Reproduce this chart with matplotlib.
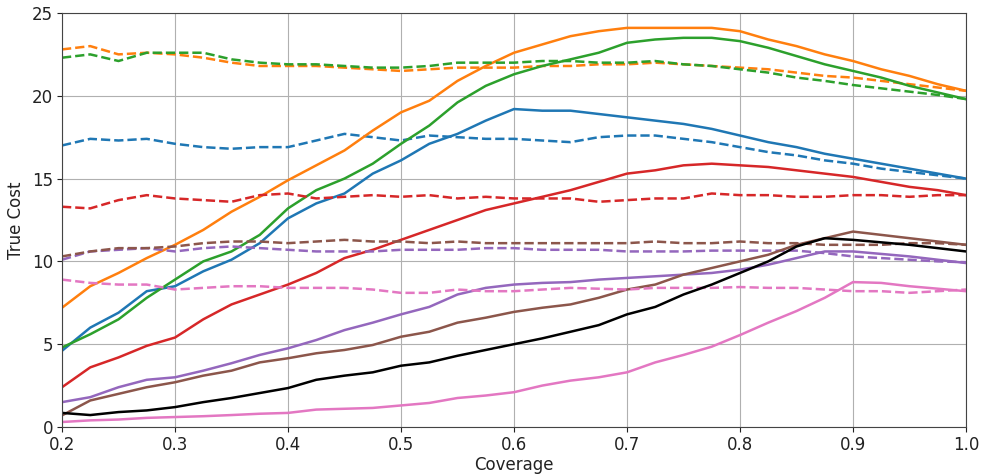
import matplotlib

matplotlib.use("Agg")

import matplotlib.pyplot as plt

# Shared coverage grid for every curve
coverage = [0.200, 0.225, 0.250, 0.275, 0.300, 0.325, 0.350, 0.375, 0.400, 0.425,
            0.450, 0.475, 0.500, 0.525, 0.550, 0.575, 0.600, 0.625, 0.650, 0.675,
            0.700, 0.725, 0.750, 0.775, 0.800, 0.825, 0.850, 0.875, 0.900, 0.925,
            0.950, 0.975, 1.000]

# Solid curves (one per colour)
blue_solid = [4.6, 6.0, 6.9, 8.2, 8.5, 9.4, 10.1, 11.1, 12.6, 13.5, 14.1, 15.3, 16.1,
              17.1, 17.7, 18.5, 19.2, 19.1, 19.1, 18.9, 18.7, 18.5, 18.3, 18.0, 17.6,
              17.2, 16.9, 16.5, 16.2, 15.9, 15.6, 15.3, 15.0]
orange_solid = [7.2, 8.5, 9.3, 10.2, 11.0, 11.9, 13.0, 13.9, 14.9, 15.8, 16.7, 17.9, 19.0,
                19.7, 20.9, 21.8, 22.6, 23.1, 23.6, 23.9, 24.1, 24.1, 24.1, 24.1, 23.9,
                23.4, 23.0, 22.5, 22.1, 21.6, 21.2, 20.7, 20.3]
green_solid = [4.8, 5.6, 6.5, 7.8, 8.9, 10.0, 10.6, 11.6, 13.2, 14.3, 15.0, 15.9, 17.1,
               18.2, 19.6, 20.6, 21.3, 21.8, 22.2, 22.6, 23.2, 23.4, 23.5, 23.5, 23.3,
               22.9, 22.4, 21.9, 21.5, 21.1, 20.6, 20.2, 19.8]
red_solid = [2.4, 3.6, 4.2, 4.9, 5.4, 6.5, 7.4, 8.0, 8.6, 9.3, 10.2, 10.7, 11.3, 11.9,
             12.5, 13.1, 13.5, 13.9, 14.3, 14.8, 15.3, 15.5, 15.8, 15.9, 15.8, 15.7,
             15.5, 15.3, 15.1, 14.8, 14.5, 14.3, 14.0]
purple_solid = [1.5, 1.8, 2.4, 2.85, 3.0, 3.4, 3.85, 4.35, 4.75, 5.25, 5.85, 6.3, 6.8,
                7.25, 8.0, 8.4, 8.6, 8.7, 8.75, 8.9, 9.0, 9.1, 9.2, 9.3, 9.5, 9.8,
                10.2, 10.6, 10.6, 10.45, 10.3, 10.1, 9.9]
brown_solid = [0.7, 1.6, 2.0, 2.4, 2.7, 3.1, 3.4, 3.9, 4.15, 4.45, 4.65, 4.95, 5.45,
               5.75, 6.3, 6.6, 6.95, 7.2, 7.4, 7.8, 8.3, 8.6, 9.2, 9.6, 10.0, 10.4,
               11.0, 11.4, 11.8, 11.6, 11.4, 11.2, 11.0]
pink_solid = [0.3, 0.4, 0.45, 0.55, 0.6, 0.65, 0.72, 0.8, 0.85, 1.05, 1.1, 1.15, 1.3,
              1.45, 1.75, 1.9, 2.1, 2.5, 2.8, 3.0, 3.3, 3.9, 4.35, 4.85, 5.55, 6.3,
              7.0, 7.8, 8.75, 8.7, 8.5, 8.35, 8.2]
black_solid = [0.85, 0.72, 0.9, 1.0, 1.2, 1.5, 1.75, 2.05, 2.35, 2.85, 3.1, 3.3, 3.7,
               3.9, 4.3, 4.65, 5.0, 5.35, 5.75, 6.15, 6.8, 7.25, 8.0, 8.6, 9.3, 10.0,
               10.9, 11.4, 11.3, 11.15, 11.0, 10.8, 10.6]

# Dashed curves (one per colour)
blue_dashed = [17.0, 17.4, 17.3, 17.4, 17.1, 16.9, 16.8, 16.9, 16.9, 17.3, 17.7, 17.5,
               17.3, 17.6, 17.5, 17.4, 17.4, 17.3, 17.2, 17.5, 17.6, 17.6, 17.4, 17.2,
               16.9, 16.6, 16.4, 16.1, 15.9, 15.6, 15.4, 15.2, 15.0]
orange_dashed = [22.8, 23.0, 22.5, 22.6, 22.5, 22.3, 22.0, 21.8, 21.8, 21.8, 21.7, 21.6,
                 21.5, 21.6, 21.7, 21.7, 21.7, 21.8, 21.8, 21.9, 21.9, 22.0, 21.9, 21.8,
                 21.7, 21.6, 21.4, 21.2, 21.1, 20.9, 20.7, 20.5, 20.3]
green_dashed = [22.3, 22.5, 22.1, 22.6, 22.6, 22.6, 22.2, 22.0, 21.9, 21.9, 21.8, 21.7,
                21.7, 21.8, 22.0, 22.0, 22.0, 22.1, 22.1, 22.0, 22.0, 22.1, 21.9, 21.8,
                21.6, 21.4, 21.1, 20.9, 20.65, 20.45, 20.25, 20.05, 19.8]
red_dashed = [13.3, 13.2, 13.7, 14.0, 13.8, 13.7, 13.6, 14.0, 14.1, 13.8, 13.9, 14.0,
              13.9, 14.0, 13.8, 13.9, 13.8, 13.8, 13.8, 13.6, 13.7, 13.8, 13.8, 14.1,
              14.0, 14.0, 13.9, 13.9, 14.0, 14.0, 13.9, 14.0, 14.0]
purple_dashed = [10.1, 10.6, 10.7, 10.8, 10.6, 10.8, 10.9, 10.8, 10.7, 10.6, 10.6, 10.6,
                 10.7, 10.7, 10.7, 10.8, 10.8, 10.7, 10.7, 10.7, 10.6, 10.6, 10.6, 10.65,
                 10.65, 10.65, 10.65, 10.5, 10.3, 10.2, 10.1, 10.0, 9.95]
brown_dashed = [10.3, 10.6, 10.8, 10.8, 10.9, 11.1, 11.2, 11.2, 11.1, 11.2, 11.3, 11.2,
                11.2, 11.1, 11.2, 11.1, 11.1, 11.1, 11.1, 11.1, 11.1, 11.2, 11.1, 11.1,
                11.2, 11.1, 11.1, 11.0, 11.0, 11.0, 11.1, 11.1, 11.0]
pink_dashed = [8.9, 8.7, 8.6, 8.6, 8.3, 8.4, 8.5, 8.5, 8.4, 8.4, 8.4, 8.3, 8.1, 8.1,
               8.3, 8.2, 8.2, 8.3, 8.4, 8.35, 8.3, 8.4, 8.4, 8.4, 8.45, 8.4, 8.4, 8.3,
               8.2, 8.2, 8.1, 8.2, 8.3]

pairs = [
    ("tab:blue", blue_solid, blue_dashed),
    ("tab:orange", orange_solid, orange_dashed),
    ("tab:green", green_solid, green_dashed),
    ("tab:red", red_solid, red_dashed),
    ("tab:purple", purple_solid, purple_dashed),
    ("tab:brown", brown_solid, brown_dashed),
    ("tab:pink", pink_solid, pink_dashed),
]

fig = plt.figure(figsize=(9.81, 4.74), dpi=100)
ax = fig.add_axes([0.0632, 0.0992, 0.9215, 0.8734])

for color, solid, dashed in pairs:
    ax.plot(coverage, solid, color=color, linewidth=1.8)
    ax.plot(coverage, dashed, color=color, linewidth=1.8, linestyle="--")
ax.plot(coverage, black_solid, color="black", linewidth=1.8)

ax.set_xlim(0.2, 1.0)
ax.set_ylim(0, 25)
ax.set_xticks([0.2, 0.3, 0.4, 0.5, 0.6, 0.7, 0.8, 0.9, 1.0])
ax.set_yticks([0, 5, 10, 15, 20, 25])
ax.tick_params(labelsize=12, colors="#222222", pad=3)
for spine in ax.spines.values():
    spine.set_color("#444444")
ax.grid(True, color="#b0b0b0", linewidth=0.8)
ax.set_xlabel("Coverage", fontsize=12, labelpad=1.5, color="#222222")
ax.set_ylabel("True Cost", fontsize=12, labelpad=5, color="#222222")

fig.savefig("out.png", dpi=100)
